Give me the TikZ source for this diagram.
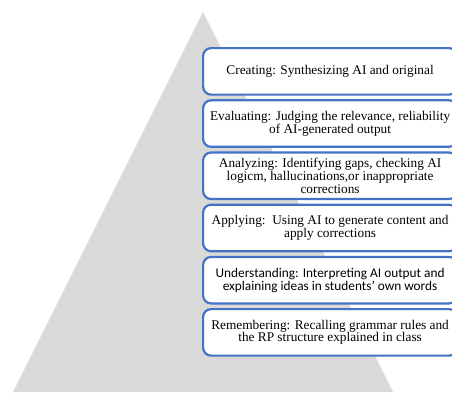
\documentclass[tikz,border=0pt]{standalone}
\usepackage{fontspec}
\setmainfont{Liberation Serif}
\newfontfamily\calibrifont{Carlito}
\definecolor{pyramidgrey}{HTML}{D9D9D9}
\definecolor{levelblue}{HTML}{4472C4}
\begin{document}
\begin{tikzpicture}[x=1pt,y=-1pt,
  level/.style={draw=levelblue, line width=2.2pt, fill=white,
    rounded corners=8pt, minimum width=254pt, minimum height=46.5pt,
    anchor=north west, align=center, inner sep=0pt,
    font=\fontsize{13.3}{12.8}\selectfont}]
\useasboundingbox (0,0) rectangle (452,392);
\clip (0,0) rectangle (452,392);
% pyramid
\fill[pyramidgrey] (203,12) -- (13,392) -- (393,392) -- cycle;
% Bloom levels, top to bottom
\node[level] (creating) at (202,47) {Creating: Synthesizing AI and original};
\node[level] (evaluating) at (202,99.2) {Evaluating: Judging the relevance, reliability\\of AI-generated output};
\node[level] (analyzing) at (202,151.4) {Analyzing: Identifying gaps, checking AI\\logicm, hallucinations,or inappropriate\\corrections};
\node[level] (applying) at (202,203.6) {Applying:\ \ Using AI to generate content and\\apply corrections};
\node[level, font=\calibrifont\fontsize{13.3}{13.2}\selectfont] (understanding) at (202,255.8) {Understanding: Interpreting AI output and\\explaining ideas in students’ own words};
\node[level] (remembering) at (202,308) {Remembering: Recalling grammar rules and\\the RP structure explained in class};
\end{tikzpicture}
\end{document}
